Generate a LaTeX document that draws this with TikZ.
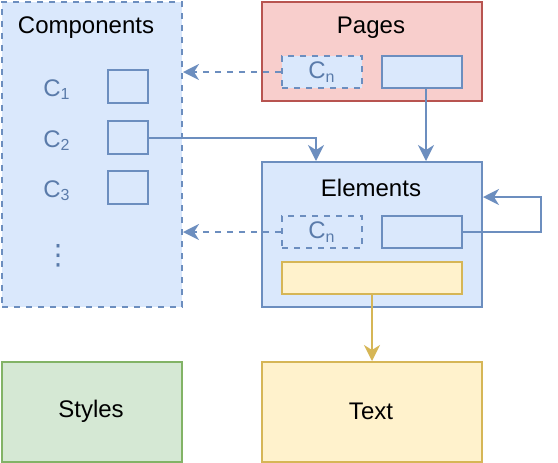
\documentclass[tikz,border=0pt]{standalone}
\usepackage{fontspec}
\setmainfont{Liberation Sans}
\newfontfamily\symfont{DejaVu Sans}
\usetikzlibrary{arrows.meta}
\definecolor{bluefill}{HTML}{DAE8FC}
\definecolor{bluedraw}{HTML}{6C8EBF}
\definecolor{bluetext}{HTML}{5A7BAA}
\definecolor{redfill}{HTML}{F8CECC}
\definecolor{reddraw}{HTML}{B85450}
\definecolor{greenfill}{HTML}{D5E8D4}
\definecolor{greendraw}{HTML}{82B366}
\definecolor{yellowfill}{HTML}{FFF2CC}
\definecolor{yellowdraw}{HTML}{D6B656}

\begin{document}
\begin{tikzpicture}[x=0.5pt,y=-0.5pt,
    font=\fontsize{12}{14}\selectfont,
    box/.style={draw, line width=1pt, inner sep=0pt, anchor=north west},
    bluebox/.style={box, draw=bluedraw, fill=bluefill},
    dashbox/.style={bluebox, dash pattern=on 3pt off 3pt},
    small/.style={minimum width=#1, minimum height=16pt},
    clabel/.style={text=bluetext, inner sep=0pt},
    link/.style={draw=bluedraw, line width=1pt, -{Stealth[length=8pt,width=8pt,inset=2.5pt]}},
    dashlink/.style={link, dash pattern=on 3pt off 3pt}]
    \useasboundingbox (0,0) rectangle (558,462);
    % Components
    \node[dashbox, minimum width=90pt, minimum height=152.5pt] (comp) at (1,1) {};
    \node (comptitle) at (86,28) {Components};
    \node[bluebox, minimum width=20pt, minimum height=16.5pt] (c1) at (107,69) {};
    \node[bluebox, minimum width=20pt, minimum height=16.5pt] (c2) at (107,120) {};
    \node[bluebox, minimum width=20pt, minimum height=16.5pt] (c3) at (107,170) {};
    \node[clabel, anchor=base west] (l1) at (43,96) {C\textsubscript{1}};
    \node[clabel, anchor=base west] (l2) at (43,147) {C\textsubscript{2}};
    \node[clabel, anchor=base west] (l3) at (43,197) {C\textsubscript{3}};
    \node[clabel, font=\symfont\fontsize{14}{16}\selectfont] (dots) at (58,256) {⋮};
    % Pages
    \node[box, draw=reddraw, fill=redfill, minimum width=110pt, minimum height=49.5pt] (pages) at (261,1) {};
    \node (pagestitle) at (371,28) {Pages};
    \node[dashbox, small=40pt, text=bluetext] (pcn) at (281,55) {C\textsubscript{n}};
    \node[bluebox, small=40pt] (pbox) at (381,55) {};
    % Elements
    \node[bluebox, minimum width=110pt, minimum height=72.5pt] (elem) at (261,161) {};
    \node (elemtitle) at (371,188) {Elements};
    \node[dashbox, small=40pt, text=bluetext] (ecn) at (281,215) {C\textsubscript{n}};
    \node[bluebox, small=40pt] (ebox) at (381,215) {};
    \node[box, draw=yellowdraw, fill=yellowfill, small=90pt] (ytxt) at (281,261) {};
    % Styles and Text
    \node[box, draw=greendraw, fill=greenfill, minimum width=90pt, minimum height=50pt] (styles) at (1,361) {};
    \node (stylestitle) at (91,411) {Styles};
    \node[box, draw=yellowdraw, fill=yellowfill, minimum width=110pt, minimum height=50pt] (text) at (261,361) {};
    \node (texttitle) at (371,411) {Text};
    % Links
    \coordinate (e2) at (316,161);
    \coordinate (p2) at (426,87);
    \coordinate (loop) at (541,197);
    \draw[dashlink] (pcn.west) -- (pcn.west -| comp.east);
    \draw[dashlink] (ecn.west) -- (ecn.west -| comp.east);
    \draw[link] (c2.east) -| (e2);
    \draw[link] (p2) -- (p2 |- elem.north);
    \draw[link] (ebox.east) -| (loop) -- (loop -| elem.east);
    \draw[link, draw=yellowdraw] (ytxt.south) -- (text.north);
\end{tikzpicture}
\end{document}
